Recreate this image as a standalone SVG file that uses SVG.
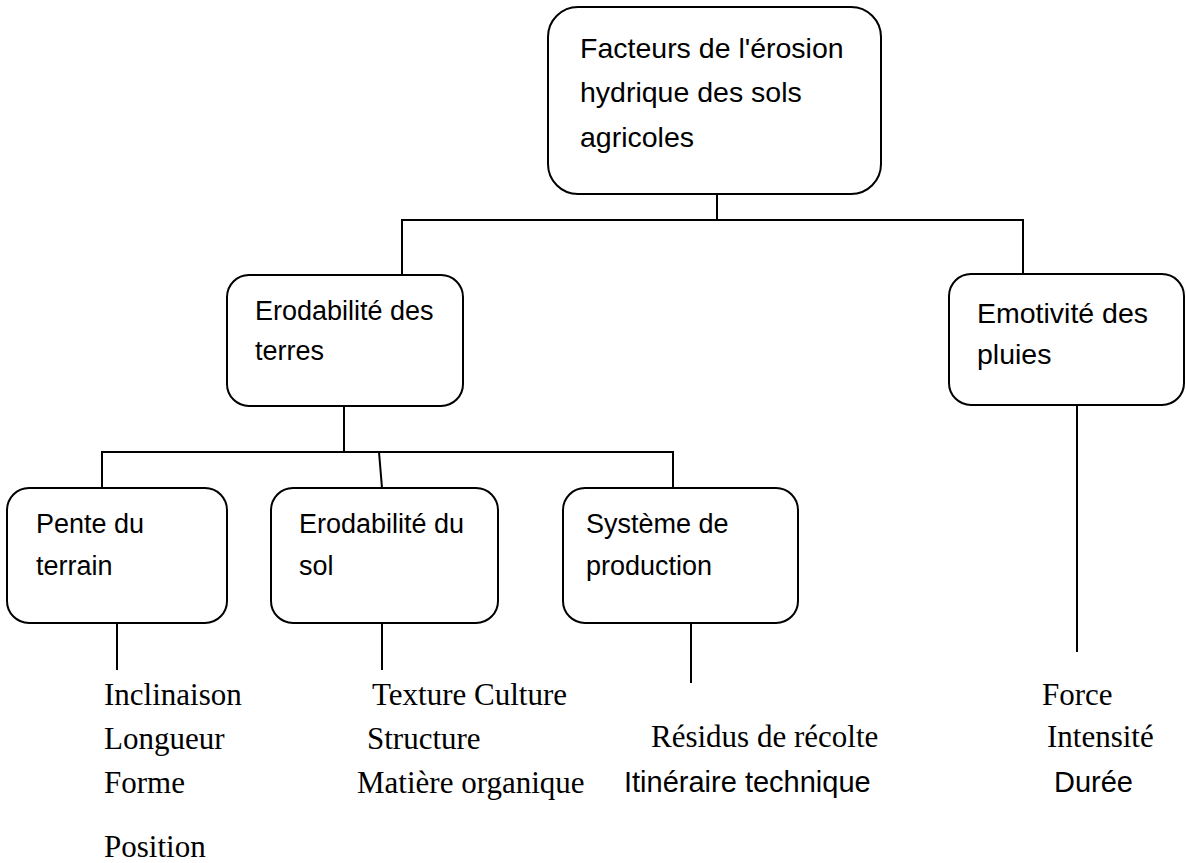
<svg xmlns="http://www.w3.org/2000/svg" width="1186" height="863" viewBox="0 0 1186 863">
<style>
.box{fill:#fff;stroke:#000;stroke-width:2}
.ln{stroke:#000;stroke-width:2;fill:none}
.t{font-family:"Liberation Sans",Arial,sans-serif;font-size:27px;fill:#000}
.s{font-family:"Liberation Serif","Times New Roman",serif;font-size:31px;fill:#000}
.c{font-family:"Liberation Sans",Arial,sans-serif;font-size:29px;fill:#000}
</style>
<rect width="1186" height="863" fill="#fff"/>
<g id="connectors">
<line class="ln" x1="717" y1="194" x2="717" y2="220"/>
<line class="ln" x1="401" y1="220" x2="1024" y2="220"/>
<line class="ln" x1="402" y1="220" x2="402" y2="275"/>
<line class="ln" x1="1023" y1="220" x2="1023" y2="274"/>
<line class="ln" x1="344" y1="406" x2="344" y2="452"/>
<line class="ln" x1="101" y1="452" x2="674" y2="452"/>
<line class="ln" x1="102" y1="452" x2="102" y2="488"/>
<line class="ln" x1="379" y1="452" x2="382" y2="488"/>
<line class="ln" x1="673" y1="452" x2="673" y2="488"/>
<line class="ln" x1="117" y1="623" x2="117" y2="670"/>
<line class="ln" x1="382" y1="623" x2="382" y2="670"/>
<line class="ln" x1="691" y1="623" x2="691" y2="683"/>
<line class="ln" x1="1077" y1="405" x2="1077" y2="652"/>
</g>
<g id="root">
<rect class="box" x="548" y="7" width="333" height="187" rx="30"/>
<text class="t" style="font-size:28.5px" x="580" y="58">Facteurs de l'érosion</text>
<text class="t" style="font-size:28.5px" x="580" y="102">hydrique des sols</text>
<text class="t" style="font-size:28.5px" x="580" y="147">agricoles</text>
</g>
<g id="erodabilite-terres">
<rect class="box" x="227" y="275" width="236" height="131" rx="22"/>
<text class="t" x="255" y="320">Erodabilité des</text>
<text class="t" x="255" y="360">terres</text>
</g>
<g id="emotivite">
<rect class="box" x="949" y="274" width="235" height="131" rx="22"/>
<text class="t" style="font-size:28.5px" x="977" y="323">Emotivité des</text>
<text class="t" style="font-size:28.5px" x="977" y="364">pluies</text>
</g>
<g id="pente">
<rect class="box" x="7" y="488" width="220" height="135" rx="22"/>
<text class="t" x="36" y="533">Pente du</text>
<text class="t" x="36" y="575">terrain</text>
</g>
<g id="erodabilite-sol">
<rect class="box" x="271" y="488" width="227" height="135" rx="22"/>
<text class="t" x="299" y="533">Erodabilité du</text>
<text class="t" x="299" y="575">sol</text>
</g>
<g id="systeme">
<rect class="box" x="563" y="488" width="235" height="135" rx="22"/>
<text class="t" x="586" y="533">Système de</text>
<text class="t" x="586" y="575">production</text>
</g>
<g id="pente-items">
<text class="s" x="104" y="705">Inclinaison</text>
<text class="s" x="104" y="749">Longueur</text>
<text class="s" x="104" y="793">Forme</text>
<text class="s" x="104" y="857">Position</text>
</g>
<g id="sol-items">
<text class="s" x="372" y="705">Texture Culture</text>
<text class="s" x="367" y="749">Structure</text>
<text class="s" x="357" y="793">Matière organique</text>
</g>
<g id="systeme-items">
<text class="s" x="651" y="747">Résidus de récolte</text>
<text class="c" x="624" y="792">Itinéraire technique</text>
</g>
<g id="pluie-items">
<text class="s" x="1042" y="705">Force</text>
<text class="s" x="1047" y="747">Intensité</text>
<text class="c" x="1054" y="792">Durée</text>
</g>
</svg>
